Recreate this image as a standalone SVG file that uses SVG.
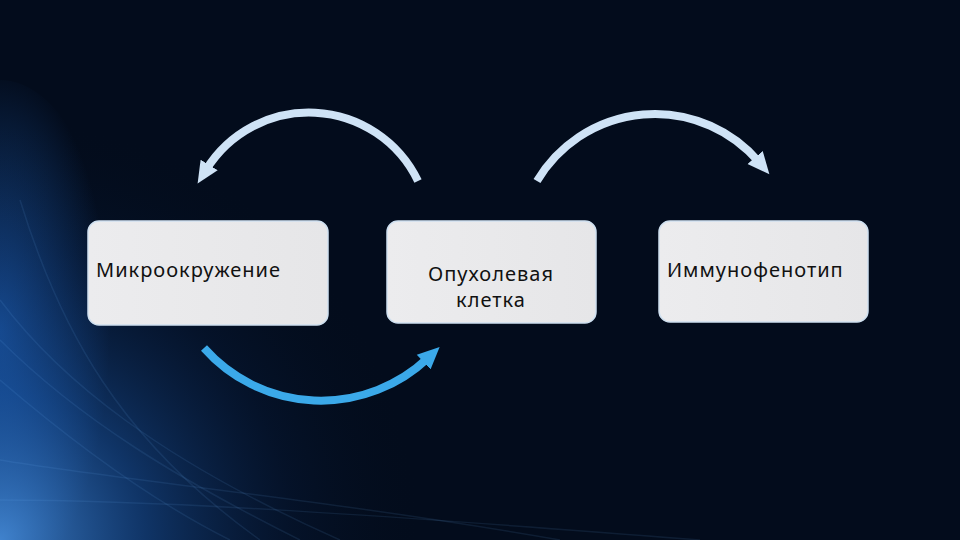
<svg xmlns="http://www.w3.org/2000/svg" width="960" height="540" viewBox="0 0 960 540">
<defs>
<radialGradient id="glow" cx="0" cy="540" r="420" gradientUnits="userSpaceOnUse">
<stop offset="0" stop-color="#4a95e8" stop-opacity="0.85"/>
<stop offset="0.35" stop-color="#1c5cb0" stop-opacity="0.5"/>
<stop offset="0.7" stop-color="#0b2a5a" stop-opacity="0.2"/>
<stop offset="1" stop-color="#04101f" stop-opacity="0"/>
</radialGradient>
<radialGradient id="leftglow" cx="0" cy="330" r="1" gradientUnits="userSpaceOnUse" gradientTransform="translate(0,330) scale(110,260) translate(0,-330)">
<stop offset="0" stop-color="#1f66c4" stop-opacity="0.7"/>
<stop offset="1" stop-color="#1f66c4" stop-opacity="0"/>
</radialGradient>
<linearGradient id="boxfill" x1="0" y1="0" x2="1" y2="0">
<stop offset="0" stop-color="#ececee"/>
<stop offset="1" stop-color="#e6e6e8"/>
</linearGradient>
<marker id="headLight" markerUnits="userSpaceOnUse" markerWidth="24" markerHeight="24" viewBox="0 0 24 24" refX="6" refY="12" orient="auto">
<path d="M0,2 L22,12 L0,22 Z" fill="#cfe3f6"/>
</marker>
<marker id="headBlue" markerUnits="userSpaceOnUse" markerWidth="24" markerHeight="24" viewBox="0 0 24 24" refX="6" refY="12" orient="auto">
<path d="M0,2 L22,12 L0,22 Z" fill="#3ba9e9"/>
</marker>
<style>
.box{fill:url(#boxfill);stroke:#cfe0f0;stroke-width:1.5}
.lbl{font-family:"Noto Sans","DejaVu Sans",sans-serif;font-size:20px;letter-spacing:1px;fill:#111}
.arcL{fill:none;stroke:#cfe3f6;stroke-width:8}
.arcB{fill:none;stroke:#3ba9e9;stroke-width:8}
</style>
</defs>
<rect width="960" height="540" fill="#030c1c"/>
<ellipse cx="0" cy="340" rx="120" ry="260" fill="url(#leftglow)"/>
<rect width="960" height="540" fill="url(#glow)"/>
<g fill="none" stroke="#7ab8ff" stroke-opacity="0.1" stroke-width="1.5">
<path d="M0,300 C60,380 160,460 340,540"/>
<path d="M0,340 C80,420 180,480 300,540"/>
<path d="M0,380 C70,440 150,500 230,540"/>
<path d="M20,200 C60,330 120,440 260,540"/>
<path d="M0,460 C120,480 330,500 560,540"/>
<path d="M0,500 C160,500 380,515 700,540"/>
</g>
<g id="connectors">
<path class="arcL" d="M418,181 A121,121 0 0 0 206,170" marker-end="url(#headLight)"/>
<path class="arcL" d="M537,181 A137,137 0 0 1 759,162" marker-end="url(#headLight)"/>
<path class="arcB" d="M204,348 A156,156 0 0 0 428,358" marker-end="url(#headBlue)"/>
</g>
<g id="node-microenv">
<rect class="box" x="88" y="221" width="240" height="104" rx="11"/>
<text class="lbl" x="96" y="277">Микроокружение</text>
</g>
<g id="node-tumor">
<rect class="box" x="387" y="221" width="209" height="102" rx="11"/>
<text class="lbl" x="491" y="281" text-anchor="middle">Опухолевая</text>
<text class="lbl" x="491" y="307" text-anchor="middle">клетка</text>
</g>
<g id="node-immuno">
<rect class="box" x="659" y="221" width="209" height="101" rx="11"/>
<text class="lbl" x="667" y="277">Иммунофенотип</text>
</g>
</svg>
